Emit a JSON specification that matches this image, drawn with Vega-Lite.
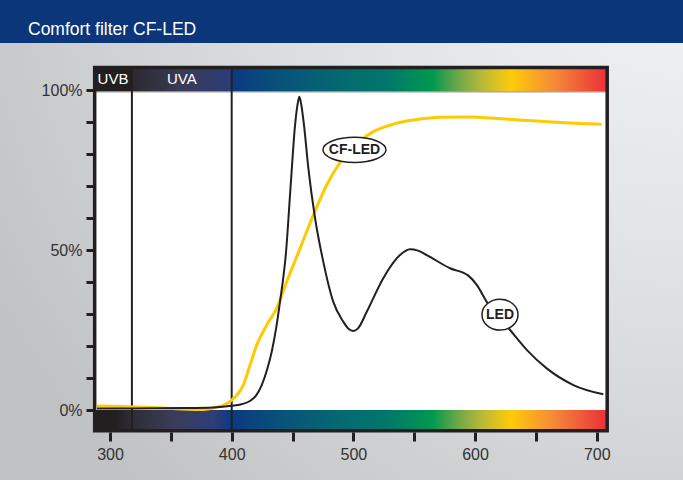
{
  "$schema": "https://vega.github.io/schema/vega-lite/v6.json",
  "width": 683,
  "height": 437,
  "autosize": "none",
  "padding": {"top": 43, "left": 0, "right": 0, "bottom": 0},
  "background": "#0b367a",
  "title": {
    "text": "Comfort filter CF-LED",
    "anchor": "start",
    "frame": "group",
    "color": "#ffffff",
    "font": "Liberation Sans, Arial, sans-serif",
    "fontSize": 17.5,
    "fontWeight": "normal",
    "baseline": "alphabetic",
    "offset": -9,
    "dx": 28
  },
  "config": {
    "view": {
      "stroke": null,
      "fill": {
        "gradient": "radial",
        "x1": 1, "y1": 0, "r1": 0,
        "x2": 1, "y2": 0, "r2": 1.15,
        "stops": [
          {"offset": 0, "color": "#f3f5f7"},
          {"offset": 0.4, "color": "#e2e5e7"},
          {"offset": 0.75, "color": "#cfd1d3"},
          {"offset": 1, "color": "#c1c2c4"}
        ]
      }
    },
    "font": "Liberation Sans, Arial, sans-serif"
  },
  "datasets": {
    "frame": [{"wl": 287.4, "wl2": 708.6, "pct": -6.5, "pct2": 107.0}],
    "bands": [
      {"band": "UVB", "wl": 287.4, "wl2": 318, "mid": 302.5},
      {"band": "UVA", "wl": 318, "wl2": 400, "mid": 359},
      {"band": "visible", "wl": 400, "wl2": 708.6, "mid": 554}
    ],
    "bounds": [{"wl": 318}, {"wl": 400}],
    "notes": [
      {"label": "CF-LED", "wl": 500.9, "pct": 81.3},
      {"label": "LED", "wl": 620.5, "pct": 29.8}
    ],
    "curves": [
      {"series": "LED", "wl": 289.3, "pct": 0.5},
      {"series": "LED", "wl": 320, "pct": 0.5},
      {"series": "LED", "wl": 360, "pct": 0.6},
      {"series": "LED", "wl": 385, "pct": 0.8},
      {"series": "LED", "wl": 400, "pct": 1.3},
      {"series": "LED", "wl": 408, "pct": 1.8},
      {"series": "LED", "wl": 415, "pct": 2.8},
      {"series": "LED", "wl": 420, "pct": 4.5},
      {"series": "LED", "wl": 424.7, "pct": 7.8},
      {"series": "LED", "wl": 429, "pct": 12.5},
      {"series": "LED", "wl": 432.9, "pct": 18.2},
      {"series": "LED", "wl": 436.5, "pct": 25.5},
      {"series": "LED", "wl": 439.7, "pct": 33.8},
      {"series": "LED", "wl": 444.7, "pct": 49.5},
      {"series": "LED", "wl": 448.5, "pct": 70.3},
      {"series": "LED", "wl": 452.1, "pct": 89.1},
      {"series": "LED", "wl": 454.5, "pct": 96.3},
      {"series": "LED", "wl": 455.6, "pct": 97.9},
      {"series": "LED", "wl": 456.8, "pct": 96.3},
      {"series": "LED", "wl": 459.4, "pct": 89.1},
      {"series": "LED", "wl": 463, "pct": 75.6},
      {"series": "LED", "wl": 468.5, "pct": 60},
      {"series": "LED", "wl": 475.3, "pct": 46.3},
      {"series": "LED", "wl": 483.5, "pct": 33.8},
      {"series": "LED", "wl": 491.7, "pct": 27.6},
      {"series": "LED", "wl": 496, "pct": 25.4},
      {"series": "LED", "wl": 500, "pct": 24.7},
      {"series": "LED", "wl": 504, "pct": 25.6},
      {"series": "LED", "wl": 511, "pct": 30.7},
      {"series": "LED", "wl": 524.6, "pct": 41.2},
      {"series": "LED", "wl": 538.3, "pct": 48.4},
      {"series": "LED", "wl": 546.6, "pct": 50.2},
      {"series": "LED", "wl": 553, "pct": 49.8},
      {"series": "LED", "wl": 560.3, "pct": 48.4},
      {"series": "LED", "wl": 579.4, "pct": 44.3},
      {"series": "LED", "wl": 594.5, "pct": 42},
      {"series": "LED", "wl": 601.4, "pct": 39.1},
      {"series": "LED", "wl": 609.6, "pct": 33.8},
      {"series": "LED", "wl": 628.8, "pct": 25},
      {"series": "LED", "wl": 642.5, "pct": 18.8},
      {"series": "LED", "wl": 658.9, "pct": 13},
      {"series": "LED", "wl": 680.8, "pct": 7.8},
      {"series": "LED", "wl": 705.4, "pct": 4.9},
      {"series": "CF-LED", "wl": 289.3, "pct": 1.25},
      {"series": "CF-LED", "wl": 310, "pct": 1.1},
      {"series": "CF-LED", "wl": 332.9, "pct": 0.8},
      {"series": "CF-LED", "wl": 355, "pct": 0.4},
      {"series": "CF-LED", "wl": 376.4, "pct": 0.15},
      {"series": "CF-LED", "wl": 388, "pct": 0.9},
      {"series": "CF-LED", "wl": 395, "pct": 1.8},
      {"series": "CF-LED", "wl": 400, "pct": 3.1},
      {"series": "CF-LED", "wl": 405, "pct": 5},
      {"series": "CF-LED", "wl": 409.5, "pct": 7.8},
      {"series": "CF-LED", "wl": 415.1, "pct": 14.1},
      {"series": "CF-LED", "wl": 420.6, "pct": 20.3},
      {"series": "CF-LED", "wl": 428.8, "pct": 26.6},
      {"series": "CF-LED", "wl": 437, "pct": 31.8},
      {"series": "CF-LED", "wl": 445.2, "pct": 40.1},
      {"series": "CF-LED", "wl": 456.2, "pct": 50.5},
      {"series": "CF-LED", "wl": 467.1, "pct": 60.9},
      {"series": "CF-LED", "wl": 478.1, "pct": 70.3},
      {"series": "CF-LED", "wl": 489, "pct": 77.3},
      {"series": "CF-LED", "wl": 501, "pct": 82.5},
      {"series": "CF-LED", "wl": 516.4, "pct": 87},
      {"series": "CF-LED", "wl": 530, "pct": 89},
      {"series": "CF-LED", "wl": 543.8, "pct": 90.3},
      {"series": "CF-LED", "wl": 571.2, "pct": 91.5},
      {"series": "CF-LED", "wl": 593.1, "pct": 91.6},
      {"series": "CF-LED", "wl": 626, "pct": 90.9},
      {"series": "CF-LED", "wl": 667, "pct": 89.9},
      {"series": "CF-LED", "wl": 704, "pct": 89.3}
    ]
  },
  "layer": [
    {
      "data": {"name": "frame"},
      "mark": {"type": "rect", "fill": "#ffffff", "stroke": null},
      "encoding": {
        "x": {
          "field": "wl", "type": "quantitative",
          "scale": {"domain": [209.6, 770.9], "nice": false, "zero": false},
          "axis": {
            "title": null,
            "orient": "bottom",
            "zindex": 1,
            "values": [300, 350, 400, 450, 500, 550, 600, 650, 700],
            "labelExpr": "datum.value % 100 === 0 ? datum.label : ''",
            "domain": false, "grid": false,
            "tickSize": 9, "tickWidth": 3, "tickColor": "#231f20",
            "labelFontSize": 16, "labelColor": "#333333",
            "labelPadding": 5, "labelFlush": false, "labelOverlap": false,
            "offset": -48
          }
        },
        "x2": {"field": "wl2"},
        "y": {
          "field": "pct", "type": "quantitative",
          "scale": {"domain": [-21.875, 114.6875], "nice": false, "zero": false},
          "axis": {
            "title": null,
            "orient": "left",
            "zindex": 1,
            "values": [0, 10, 20, 30, 40, 50, 60, 70, 80, 90, 100],
            "labelExpr": "datum.value % 50 === 0 ? datum.value + '%' : ''",
            "domain": false, "grid": false,
            "tickSize": 7, "tickWidth": 3, "tickColor": "#231f20",
            "labelFontSize": 16, "labelColor": "#333333",
            "labelPadding": 4, "labelFlush": false, "labelOverlap": false,
            "offset": -93
          }
        },
        "y2": {"field": "pct2"}
      }
    },
    {
      "data": {"name": "bands"},
      "transform": [{"filter": "datum.band === 'UVB'"}],
      "mark": {"type": "rect", "fill": "#231f20"},
      "encoding": {
        "x": {"field": "wl", "type": "quantitative", "scale": {"domain": [209.6, 770.9], "nice": false, "zero": false}, "axis": {"title": null}},
        "x2": {"field": "wl2"},
        "y": {"datum": 99.5, "type": "quantitative", "scale": {"domain": [-21.875, 114.6875], "nice": false, "zero": false}, "axis": {"title": null}},
        "y2": {"datum": 107.0}
      }
    },
    {
      "data": {"name": "bands"},
      "transform": [{"filter": "datum.band === 'UVA'"}],
      "mark": {
        "type": "rect",
        "fill": {
          "gradient": "linear", "x1": 0, "y1": 0, "x2": 1, "y2": 0,
          "stops": [
            {"offset": 0, "color": "#2b2a31"},
            {"offset": 0.5, "color": "#3a3b56"},
            {"offset": 1, "color": "#2c3b78"}
          ]
        }
      },
      "encoding": {
        "x": {"field": "wl", "type": "quantitative", "scale": {"domain": [209.6, 770.9], "nice": false, "zero": false}, "axis": {"title": null}},
        "x2": {"field": "wl2"},
        "y": {"datum": 99.5, "type": "quantitative", "scale": {"domain": [-21.875, 114.6875], "nice": false, "zero": false}, "axis": {"title": null}},
        "y2": {"datum": 107.0}
      }
    },
    {
      "data": {"name": "bands"},
      "transform": [{"filter": "datum.band === 'visible'"}],
      "mark": {
        "type": "rect",
        "fill": {
          "gradient": "linear", "x1": 0, "y1": 0, "x2": 1, "y2": 0,
          "stops": [
            {"offset": 0, "color": "#0b3a80"},
            {"offset": 0.13, "color": "#08527a"},
            {"offset": 0.292, "color": "#046a71"},
            {"offset": 0.421, "color": "#00786a"},
            {"offset": 0.535, "color": "#00994f"},
            {"offset": 0.6, "color": "#6aa64a"},
            {"offset": 0.664, "color": "#b6b83a"},
            {"offset": 0.745, "color": "#fecb0a"},
            {"offset": 0.859, "color": "#f58a38"},
            {"offset": 1, "color": "#ea2f38"}
          ]
        }
      },
      "encoding": {
        "x": {"field": "wl", "type": "quantitative", "scale": {"domain": [209.6, 770.9], "nice": false, "zero": false}, "axis": {"title": null}},
        "x2": {"field": "wl2"},
        "y": {"datum": 99.5, "type": "quantitative", "scale": {"domain": [-21.875, 114.6875], "nice": false, "zero": false}, "axis": {"title": null}},
        "y2": {"datum": 107.0}
      }
    },
    {
      "data": {"name": "frame"},
      "mark": {
        "type": "rect",
        "fill": {
          "gradient": "linear", "x1": 0, "y1": 0, "x2": 1, "y2": 0,
          "stops": [
            {"offset": 0, "color": "#231f20"},
            {"offset": 0.042, "color": "#231f20"},
            {"offset": 0.07, "color": "#2d2c33"},
            {"offset": 0.149, "color": "#3a3c58"},
            {"offset": 0.232, "color": "#2f3d78"},
            {"offset": 0.267, "color": "#0b3a80"},
            {"offset": 0.362, "color": "#08527a"},
            {"offset": 0.481, "color": "#046a71"},
            {"offset": 0.576, "color": "#00786a"},
            {"offset": 0.659, "color": "#00994f"},
            {"offset": 0.706, "color": "#6aa64a"},
            {"offset": 0.753, "color": "#b6b83a"},
            {"offset": 0.812, "color": "#fecb0a"},
            {"offset": 0.895, "color": "#f58a38"},
            {"offset": 1, "color": "#ea2f38"}
          ]
        }
      },
      "encoding": {
        "x": {"field": "wl", "type": "quantitative", "scale": {"domain": [209.6, 770.9], "nice": false, "zero": false}, "axis": {"title": null}},
        "x2": {"field": "wl2"},
        "y": {"field": "pct", "type": "quantitative", "scale": {"domain": [-21.875, 114.6875], "nice": false, "zero": false}, "axis": {"title": null}},
        "y2": {"datum": 0}
      }
    },
    {
      "data": {"name": "frame"},
      "mark": {"type": "rule", "color": "#8a8a8a", "strokeWidth": 1},
      "encoding": {
        "x": {"field": "wl", "type": "quantitative", "scale": {"domain": [209.6, 770.9], "nice": false, "zero": false}, "axis": {"title": null}},
        "x2": {"field": "wl2"},
        "y": {"datum": 99.4, "type": "quantitative", "scale": {"domain": [-21.875, 114.6875], "nice": false, "zero": false}, "axis": {"title": null}}
      }
    },
    {
      "data": {"name": "bounds"},
      "mark": {"type": "rule", "color": "#231f20", "strokeWidth": 2},
      "encoding": {
        "x": {"field": "wl", "type": "quantitative", "scale": {"domain": [209.6, 770.9], "nice": false, "zero": false}, "axis": {"title": null}},
        "y": {"datum": -6.5, "type": "quantitative", "scale": {"domain": [-21.875, 114.6875], "nice": false, "zero": false}, "axis": {"title": null}},
        "y2": {"datum": 107.0}
      }
    },
    {
      "data": {"name": "bands"},
      "transform": [{"filter": "datum.band !== 'visible'"}],
      "mark": {"type": "text", "color": "#ffffff", "fontSize": 15, "align": "center", "baseline": "middle"},
      "encoding": {
        "x": {"field": "mid", "type": "quantitative", "scale": {"domain": [209.6, 770.9], "nice": false, "zero": false}, "axis": {"title": null}},
        "y": {"datum": 103.5, "type": "quantitative", "scale": {"domain": [-21.875, 114.6875], "nice": false, "zero": false}, "axis": {"title": null}},
        "text": {"field": "band"}
      }
    },
    {
      "data": {"name": "curves"},
      "transform": [{"filter": "datum.series === 'CF-LED'"}],
      "mark": {"type": "line", "color": "#fecb00", "strokeWidth": 3, "interpolate": "monotone"},
      "encoding": {
        "x": {"field": "wl", "type": "quantitative", "scale": {"domain": [209.6, 770.9], "nice": false, "zero": false}, "axis": {"title": null}},
        "y": {"field": "pct", "type": "quantitative", "scale": {"domain": [-21.875, 114.6875], "nice": false, "zero": false}, "axis": {"title": null}}
      }
    },
    {
      "data": {"name": "curves"},
      "transform": [{"filter": "datum.series === 'LED'"}],
      "mark": {"type": "line", "color": "#231f20", "strokeWidth": 2, "interpolate": "monotone"},
      "encoding": {
        "x": {"field": "wl", "type": "quantitative", "scale": {"domain": [209.6, 770.9], "nice": false, "zero": false}, "axis": {"title": null}},
        "y": {"field": "pct", "type": "quantitative", "scale": {"domain": [-21.875, 114.6875], "nice": false, "zero": false}, "axis": {"title": null}}
      }
    },
    {
      "data": {"name": "notes"},
      "transform": [{"filter": "datum.label === 'CF-LED'"}],
      "mark": {"type": "point", "shape": "M -1 0 A 1 0.4 0 1 1 1 0 A 1 0.4 0 1 1 -1 0 Z", "size": 3969, "filled": true, "fill": "#ffffff", "stroke": "#231f20", "strokeWidth": 1.5, "opacity": 1},
      "encoding": {
        "x": {"field": "wl", "type": "quantitative", "scale": {"domain": [209.6, 770.9], "nice": false, "zero": false}, "axis": {"title": null}},
        "y": {"field": "pct", "type": "quantitative", "scale": {"domain": [-21.875, 114.6875], "nice": false, "zero": false}, "axis": {"title": null}}
      }
    },
    {
      "data": {"name": "notes"},
      "transform": [{"filter": "datum.label === 'LED'"}],
      "mark": {"type": "point", "shape": "M -1 0 A 1 0.86 0 1 1 1 0 A 1 0.86 0 1 1 -1 0 Z", "size": 1296, "filled": true, "fill": "#ffffff", "stroke": "#231f20", "strokeWidth": 1.5, "opacity": 1},
      "encoding": {
        "x": {"field": "wl", "type": "quantitative", "scale": {"domain": [209.6, 770.9], "nice": false, "zero": false}, "axis": {"title": null}},
        "y": {"field": "pct", "type": "quantitative", "scale": {"domain": [-21.875, 114.6875], "nice": false, "zero": false}, "axis": {"title": null}}
      }
    },
    {
      "data": {"name": "notes"},
      "mark": {"type": "text", "color": "#231f20", "fontSize": 14, "fontWeight": "bold", "align": "center", "baseline": "middle"},
      "encoding": {
        "x": {"field": "wl", "type": "quantitative", "scale": {"domain": [209.6, 770.9], "nice": false, "zero": false}, "axis": {"title": null}},
        "y": {"field": "pct", "type": "quantitative", "scale": {"domain": [-21.875, 114.6875], "nice": false, "zero": false}, "axis": {"title": null}},
        "text": {"field": "label"}
      }
    },
    {
      "data": {"name": "frame"},
      "mark": {"type": "rect", "fill": null, "filled": false, "stroke": "#231f20", "strokeWidth": 3.5},
      "encoding": {
        "x": {"field": "wl", "type": "quantitative", "scale": {"domain": [209.6, 770.9], "nice": false, "zero": false}, "axis": {"title": null}},
        "x2": {"field": "wl2"},
        "y": {"field": "pct", "type": "quantitative", "scale": {"domain": [-21.875, 114.6875], "nice": false, "zero": false}, "axis": {"title": null}},
        "y2": {"field": "pct2"}
      }
    }
  ]
}
